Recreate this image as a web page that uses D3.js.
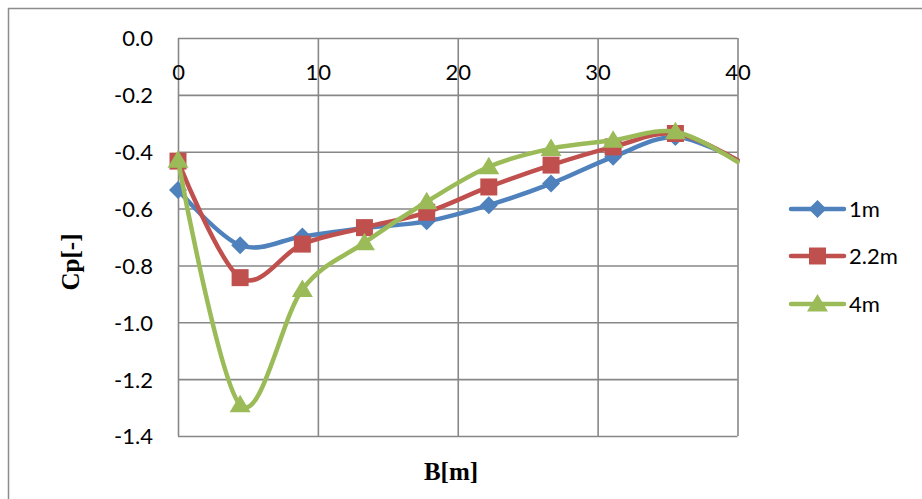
<!DOCTYPE html>
<html>
<head>
<meta charset="utf-8">
<script src="https://cdn.jsdelivr.net/npm/d3@7"></script>
<style>
html,body{margin:0;padding:0;background:#fff;}
svg{display:block;}
</style>
</head>
<body>
<svg id="chart" width="922" height="499"></svg>
<script>
// ---- data ----
const bPositions = [0, 4.44, 8.89, 13.33, 17.78, 22.22, 26.67, 31.11, 35.56, 40];
const cp1m  = [-0.535, -0.729, -0.698, -0.668, -0.645, -0.588, -0.512, -0.418, -0.348, -0.43];
const cp22m = [-0.433, -0.843, -0.725, -0.667, -0.613, -0.524, -0.447, -0.383, -0.336, -0.43];
const cp4m  = [-0.43, -1.29, -0.885, -0.72, -0.576, -0.453, -0.389, -0.36, -0.33, -0.436];
const seriesNames = ["1m", "2.2m", "4m"];
const xTicks = [0, 10, 20, 30, 40];
const yTicks = [0, -0.2, -0.4, -0.6, -0.8, -1.0, -1.2, -1.4];
const xTitle = "B[m]";
const yTitle = "Cp[-]";

const colors = ["#4F81BD", "#C0504D", "#9BBB59"];
const markerTypes = ["diamond", "square", "triangle"];
const allSeries = [cp1m, cp22m, cp4m];

const svg = d3.select("#chart");
const W = 922, H = 499;

// outer chart border
svg.append("rect").attr("x", 8.5).attr("y", 8.5).attr("width", W).attr("height", H)
  .attr("fill", "#fff").attr("stroke", "#8c8c8c").attr("stroke-width", 1.5);

const pLeft = 178, pRight = 737.5, pTop = 38, pBottom = 436;
const x = d3.scaleLinear().domain([0, 40]).range([pLeft, pRight]);
const y = d3.scaleLinear().domain([-1.4, 0]).range([pBottom, pTop]);

const gridColor = "#878787";
const tickFont = "Lato, 'Open Sans', sans-serif";
const tickSize = 22;

// horizontal gridlines
svg.append("g").attr("transform", `translate(${pLeft},0)`)
  .call(d3.axisLeft(y).tickValues(yTicks).tickSize(-(pRight - pLeft)).tickFormat(""))
  .call(g => g.select(".domain").remove())
  .call(g => g.selectAll("line").attr("stroke", gridColor).attr("stroke-width", 1.6));

// vertical gridlines
svg.append("g").attr("transform", `translate(0,${pTop})`)
  .call(d3.axisBottom(x).tickValues(xTicks).tickSize(pBottom - pTop).tickFormat(""))
  .call(g => g.select(".domain").remove())
  .call(g => g.selectAll("line").attr("stroke", gridColor).attr("stroke-width", 1.6));

// y tick labels
svg.append("g").attr("transform", `translate(${pLeft},0)`)
  .call(d3.axisLeft(y).tickValues(yTicks).tickSize(0).tickPadding(25).tickFormat(d => d.toFixed(1)))
  .call(g => g.select(".domain").remove())
  .call(g => g.selectAll("text").attr("font-family", tickFont).attr("font-size", tickSize)
     .attr("fill", "#000").attr("dy", "0.36em"));

// x tick labels (axis crosses at y = 0)
svg.append("g").attr("transform", `translate(0,${y(0)})`)
  .call(d3.axisBottom(x).tickValues(xTicks).tickSize(0).tickPadding(26).tickFormat(d3.format("d")))
  .call(g => g.select(".domain").remove())
  .call(g => g.selectAll("text").attr("font-family", tickFont).attr("font-size", tickSize)
     .attr("fill", "#000"));

// axis titles
svg.append("text").attr("x", 451).attr("y", 480).attr("text-anchor", "middle")
  .attr("font-family", "'Liberation Serif', 'Times New Roman', serif").attr("font-weight", "bold")
  .attr("font-size", 25).text(xTitle);
svg.append("text").attr("transform", "translate(79,262) rotate(-90)").attr("text-anchor", "middle")
  .attr("font-family", "'Liberation Serif', 'Times New Roman', serif").attr("font-weight", "bold")
  .attr("font-size", 25).text(yTitle);

function markerPath(type) {
  if (type === "diamond") return "M0,-9L9,0L0,9L-9,0Z";
  if (type === "square") return "M-8.5,-8.5H8.5V8.5H-8.5Z";
  return "M0,-10L10.5,7.5L-10.5,7.5Z";
}

const line = d3.line().x(d => x(d[0])).y(d => y(d[1])).curve(d3.curveCardinal.tension(0));

allSeries.forEach((vals, i) => {
  const pts = bPositions.map((b, j) => [b, vals[j]]);
  const g = svg.append("g");
  g.append("path").datum(pts).attr("d", line).attr("fill", "none")
    .attr("stroke", colors[i]).attr("stroke-width", 4.5).attr("stroke-linejoin", "round")
    .attr("stroke-linecap", "round");
  g.selectAll("path.mk").data(pts.filter(p => p[0] < 40)).enter().append("path").attr("class", "mk")
    .attr("transform", d => `translate(${x(d[0])},${y(d[1])})`)
    .attr("d", markerPath(markerTypes[i])).attr("fill", colors[i]);
});

// legend
const legY = [209, 256, 304];
seriesNames.forEach((name, i) => {
  const g = svg.append("g").attr("transform", `translate(0,${legY[i]})`);
  g.append("line").attr("x1", 791).attr("x2", 844).attr("y1", 0).attr("y2", 0)
    .attr("stroke", colors[i]).attr("stroke-width", 4.5).attr("stroke-linecap", "round");
  g.append("path").attr("transform", "translate(817.5,0)").attr("d", markerPath(markerTypes[i]))
    .attr("fill", colors[i]);
  g.append("text").attr("x", 849).attr("y", 0).attr("dy", "0.36em")
    .attr("font-family", tickFont).attr("font-size", tickSize).attr("fill", "#000").text(name);
});
</script>
</body>
</html>
